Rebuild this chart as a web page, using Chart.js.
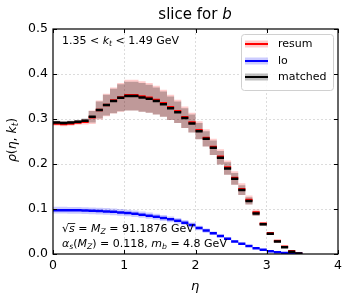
<!DOCTYPE html>
<html>
<head>
<meta charset="utf-8">
<script src="https://cdn.jsdelivr.net/npm/chart.js@4.4.0/dist/chart.umd.min.js"></script>
<style>
  html, body { margin: 0; padding: 0; background: #fff; }
</style>
</head>
<body>
<canvas id="chart" width="352" height="301"></canvas>
<script>
// bin edges in eta (bin width 0.1)
var etaEdges = [0.0, 0.1, 0.2, 0.3, 0.4, 0.5, 0.6, 0.7, 0.8, 0.9,
                1.0, 1.1, 1.2, 1.3, 1.4, 1.5, 1.6, 1.7, 1.8, 1.9,
                2.0, 2.1, 2.2, 2.3, 2.4, 2.5, 2.6, 2.7, 2.8, 2.9,
                3.0, 3.1, 3.2, 3.3, 3.4, 3.5, 3.6, 3.7, 3.8, 3.9, 4.0];

var resum = [0.290, 0.289, 0.290, 0.292, 0.294, 0.304, 0.320, 0.331, 0.341, 0.348,
             0.353, 0.353, 0.350, 0.347, 0.342, 0.335, 0.326, 0.317, 0.304, 0.292,
             0.275, 0.258, 0.238, 0.216, 0.192, 0.169, 0.144, 0.120, 0.092, 0.067,
             0.046, 0.029, 0.016, 0.006, 0.001, 0, 0, 0, 0, 0];
var resumErr = [0.005, 0.005, 0.005, 0.005, 0.006, 0.015, 0.021, 0.025, 0.029, 0.032,
                0.034, 0.034, 0.034, 0.033, 0.032, 0.030, 0.028, 0.026, 0.024, 0.022,
                0.020, 0.019, 0.018, 0.017, 0.016, 0.015, 0.013, 0.010, 0.007, 0.004,
                0.003, 0.002, 0.001, 0.001, 0, 0, 0, 0, 0, 0];

var lo = [0.0975, 0.0974, 0.0972, 0.0970, 0.0966, 0.0961, 0.0955, 0.0947, 0.0937, 0.0925,
          0.0910, 0.0893, 0.0874, 0.0852, 0.0827, 0.0800, 0.0770, 0.0737, 0.0697, 0.0645,
          0.0580, 0.0520, 0.0460, 0.0400, 0.0340, 0.0280, 0.0230, 0.0180, 0.0130, 0.0095,
          0.0063, 0.0038, 0.0020, 0.0010, 0.0003, 0, 0, 0, 0, 0];
var loErr = [0.0075, 0.0075, 0.0075, 0.0075, 0.0075, 0.0075, 0.0075, 0.0075, 0.0074, 0.0074,
             0.0073, 0.0072, 0.0071, 0.0070, 0.0068, 0.0066, 0.0064, 0.0062, 0.0059, 0.0055,
             0.0050, 0.0045, 0.0040, 0.0035, 0.0030, 0.0025, 0.0021, 0.0017, 0.0013, 0.0010,
             0.0007, 0.0004, 0.0002, 0.0001, 0, 0, 0, 0, 0, 0];

var matched = [0.292, 0.291, 0.292, 0.294, 0.296, 0.305, 0.320, 0.331, 0.340, 0.347,
               0.351, 0.351, 0.348, 0.345, 0.340, 0.333, 0.324, 0.315, 0.302, 0.290,
               0.273, 0.256, 0.236, 0.214, 0.190, 0.167, 0.142, 0.118, 0.090, 0.066,
               0.045, 0.028, 0.015, 0.005, 0.001, 0, 0, 0, 0, 0];
var matchedErr = [0.004, 0.004, 0.004, 0.004, 0.005, 0.013, 0.019, 0.023, 0.027, 0.030,
                  0.032, 0.032, 0.032, 0.031, 0.030, 0.028, 0.026, 0.024, 0.022, 0.020,
                  0.018, 0.017, 0.016, 0.015, 0.014, 0.013, 0.011, 0.008, 0.005, 0.003,
                  0.002, 0.001, 0.001, 0, 0, 0, 0, 0, 0, 0];

var xTicks = [0, 1, 2, 3, 4];
var yTicks = [0.0, 0.1, 0.2, 0.3, 0.4, 0.5];

var FONT = "'DejaVu Sans', sans-serif";

// horizontal segment per bin, broken between bins
function segments(vals) {
    var pts = [];
    for (var i = 0; i < vals.length; i++) {
        if (!vals[i]) continue;
        pts.push({x: etaEdges[i], y: vals[i]});
        pts.push({x: etaEdges[i + 1], y: vals[i]});
        pts.push({x: etaEdges[i + 1], y: null});
    }
    return pts;
}

// stepped band edge
function bandEdge(vals, errs, sign) {
    var pts = [];
    for (var i = 0; i < vals.length; i++) {
        var v = vals[i] + sign * errs[i];
        pts.push({x: etaEdges[i], y: v});
        pts.push({x: etaEdges[i + 1], y: v});
    }
    return pts;
}

function band(vals, errs, color, order) {
    return [
        {data: bandEdge(vals, errs, 1), fill: '+1', backgroundColor: color, borderWidth: 0, pointRadius: 0, order: order},
        {data: bandEdge(vals, errs, -1), fill: false, borderWidth: 0, pointRadius: 0, order: order}
    ];
}

function line(vals, color, order) {
    return {data: segments(vals), borderColor: color, borderWidth: 2.5, pointRadius: 0,
            fill: false, spanGaps: false, borderCapStyle: 'butt', order: order};
}

var datasets = []
    .concat(band(resum, resumErr, 'rgba(255,0,0,0.2)', 6))
    .concat(band(lo, loErr, 'rgba(0,0,255,0.2)', 5))
    .concat(band(matched, matchedErr, 'rgba(0,0,0,0.25)', 4));
datasets.push(line(resum, '#ff0000', 3));
datasets.push(line(lo, '#0000ff', 2));
datasets.push(line(matched, '#000000', 1));

// text with italic / subscript runs
function rich(ctx, x, y, parts, size, align) {
    function font(st) {
        var s = st.indexOf('s') >= 0 ? size * 0.7 : size;
        return (st.indexOf('i') >= 0 ? 'italic ' : '') + s + 'px ' + FONT;
    }
    var w = 0;
    parts.forEach(function(p) { ctx.font = font(p[1]); w += ctx.measureText(p[0]).width; });
    var cx = align === 'center' ? x - w / 2 : x;
    ctx.textAlign = 'left';
    ctx.textBaseline = 'middle';
    parts.forEach(function(p) {
        ctx.font = font(p[1]);
        var pw = ctx.measureText(p[0]).width;
        var dy = p[1].indexOf('s') >= 0 ? size * 0.25 : 0;
        ctx.fillText(p[0], cx, y + dy);
        if (p[1].indexOf('o') >= 0) {
            ctx.beginPath();
            ctx.lineWidth = 0.8;
            ctx.moveTo(cx - 1, y - size * 0.5);
            ctx.lineTo(cx + pw + 0.5, y - size * 0.5);
            ctx.stroke();
        }
        cx += pw;
    });
}

var decorations = {
    id: 'decorations',
    afterDraw: function(chart) {
        var ctx = chart.ctx;
        var a = chart.chartArea;
        var xs = chart.scales.x, ys = chart.scales.y;
        ctx.save();
        ctx.strokeStyle = '#000';
        ctx.fillStyle = '#000';

        // inward ticks
        ctx.lineWidth = 1;
        ctx.beginPath();
        xTicks.forEach(function(t) {
            var px = Math.round(xs.getPixelForValue(t)) + 0.5;
            ctx.moveTo(px, a.bottom); ctx.lineTo(px, a.bottom - 4);
            ctx.moveTo(px, a.top); ctx.lineTo(px, a.top + 4);
        });
        yTicks.forEach(function(t) {
            var py = Math.round(ys.getPixelForValue(t)) + 0.5;
            ctx.moveTo(a.left, py); ctx.lineTo(a.left + 4, py);
            ctx.moveTo(a.right, py); ctx.lineTo(a.right - 4, py);
        });
        ctx.stroke();

        // frame
        ctx.lineWidth = 1.2;
        ctx.strokeRect(a.left, a.top, a.right - a.left, a.bottom - a.top);

        // title and axis labels
        rich(ctx, 195, 15, [['slice for ', ''], ['b', 'i']], 15, 'center');
        rich(ctx, 195, 287, [['η', 'i']], 13, 'center');
        ctx.save();
        ctx.translate(13, 140);
        ctx.rotate(-Math.PI / 2);
        rich(ctx, 0, 0, [['ρ', 'i'], ['(', ''], ['η', 'i'], [', ', ''], ['k', 'i'], ['t', 'is'], [')', '']], 12.5, 'center');
        ctx.restore();

        // annotations
        rich(ctx, 62, 41, [['1.35 < ', ''], ['k', 'i'], ['t', 'is'], [' < 1.49 GeV', '']], 11, 'left');
        rich(ctx, 62, 229, [['√', ''], ['s', 'io'], [' = ', ''], ['M', 'i'], ['Z', 'is'], [' = 91.1876 GeV', '']], 11, 'left');
        rich(ctx, 62, 244, [['α', 'i'], ['s', 'is'], ['(', ''], ['M', 'i'], ['Z', 'is'], [') = 0.118, ', ''], ['m', 'i'], ['b', 'is'], [' = 4.8 GeV', '']], 11, 'left');

        // legend
        var lx = 241, ly = 34, lw = 92, lh = 56;
        ctx.beginPath();
        ctx.roundRect(lx + 0.5, ly + 0.5, lw, lh, 3);
        ctx.fillStyle = 'rgba(255,255,255,0.85)';
        ctx.fill();
        ctx.strokeStyle = '#d0d0d0';
        ctx.lineWidth = 1;
        ctx.stroke();
        var entries = [
            ['resum', '#ff0000', 'rgba(255,0,0,0.2)', 44],
            ['lo', '#0000ff', 'rgba(0,0,255,0.2)', 61],
            ['matched', '#000000', 'rgba(0,0,0,0.25)', 77]
        ];
        entries.forEach(function(e) {
            ctx.fillStyle = e[2];
            ctx.fillRect(245, e[3] - 3.5, 23, 7);
            ctx.beginPath();
            ctx.strokeStyle = e[1];
            ctx.lineWidth = 2;
            ctx.moveTo(245, e[3]); ctx.lineTo(268, e[3]);
            ctx.stroke();
            ctx.fillStyle = '#000';
            ctx.font = '11px ' + FONT;
            ctx.textAlign = 'left';
            ctx.textBaseline = 'middle';
            ctx.fillText(e[0], 278, e[3]);
        });
        ctx.restore();
    }
};

function gridColor(max) {
    return function(c) {
        var v = c.tick.value;
        return (Math.abs(v) < 1e-9 || Math.abs(v - max) < 1e-9) ? 'rgba(0,0,0,0)' : '#d4d4d4';
    };
}

new Chart(document.getElementById('chart'), {
    type: 'line',
    data: {datasets: datasets},
    options: {
        responsive: false,
        animation: false,
        devicePixelRatio: 1,
        layout: {padding: {top: 29, right: 14, left: 0, bottom: 0}},
        plugins: {legend: {display: false}, tooltip: {enabled: false}},
        elements: {line: {tension: 0}},
        scales: {
            x: {
                type: 'linear', min: 0, max: 4,
                afterBuildTicks: function(s) { s.ticks = xTicks.map(function(v) { return {value: v}; }); },
                ticks: {color: '#000', font: {family: FONT, size: 12.5}, padding: 4, maxRotation: 0,
                        callback: function(v) { return String(v); }},
                grid: {color: gridColor(4), lineWidth: 0.8, drawTicks: false},
                border: {display: false, dash: [2, 2]},
                afterFit: function(s) { s.height = 47; }
            },
            y: {
                type: 'linear', min: 0, max: 0.5,
                afterBuildTicks: function(s) { s.ticks = yTicks.map(function(v) { return {value: v}; }); },
                ticks: {color: '#000', font: {family: FONT, size: 12.5}, padding: 5,
                        callback: function(v) { return v.toFixed(1); }},
                grid: {color: gridColor(0.5), lineWidth: 0.8, drawTicks: false},
                border: {display: false, dash: [2, 2]},
                afterFit: function(s) { s.width = 53; }
            }
        }
    },
    plugins: [decorations]
});
</script>
</body>
</html>
